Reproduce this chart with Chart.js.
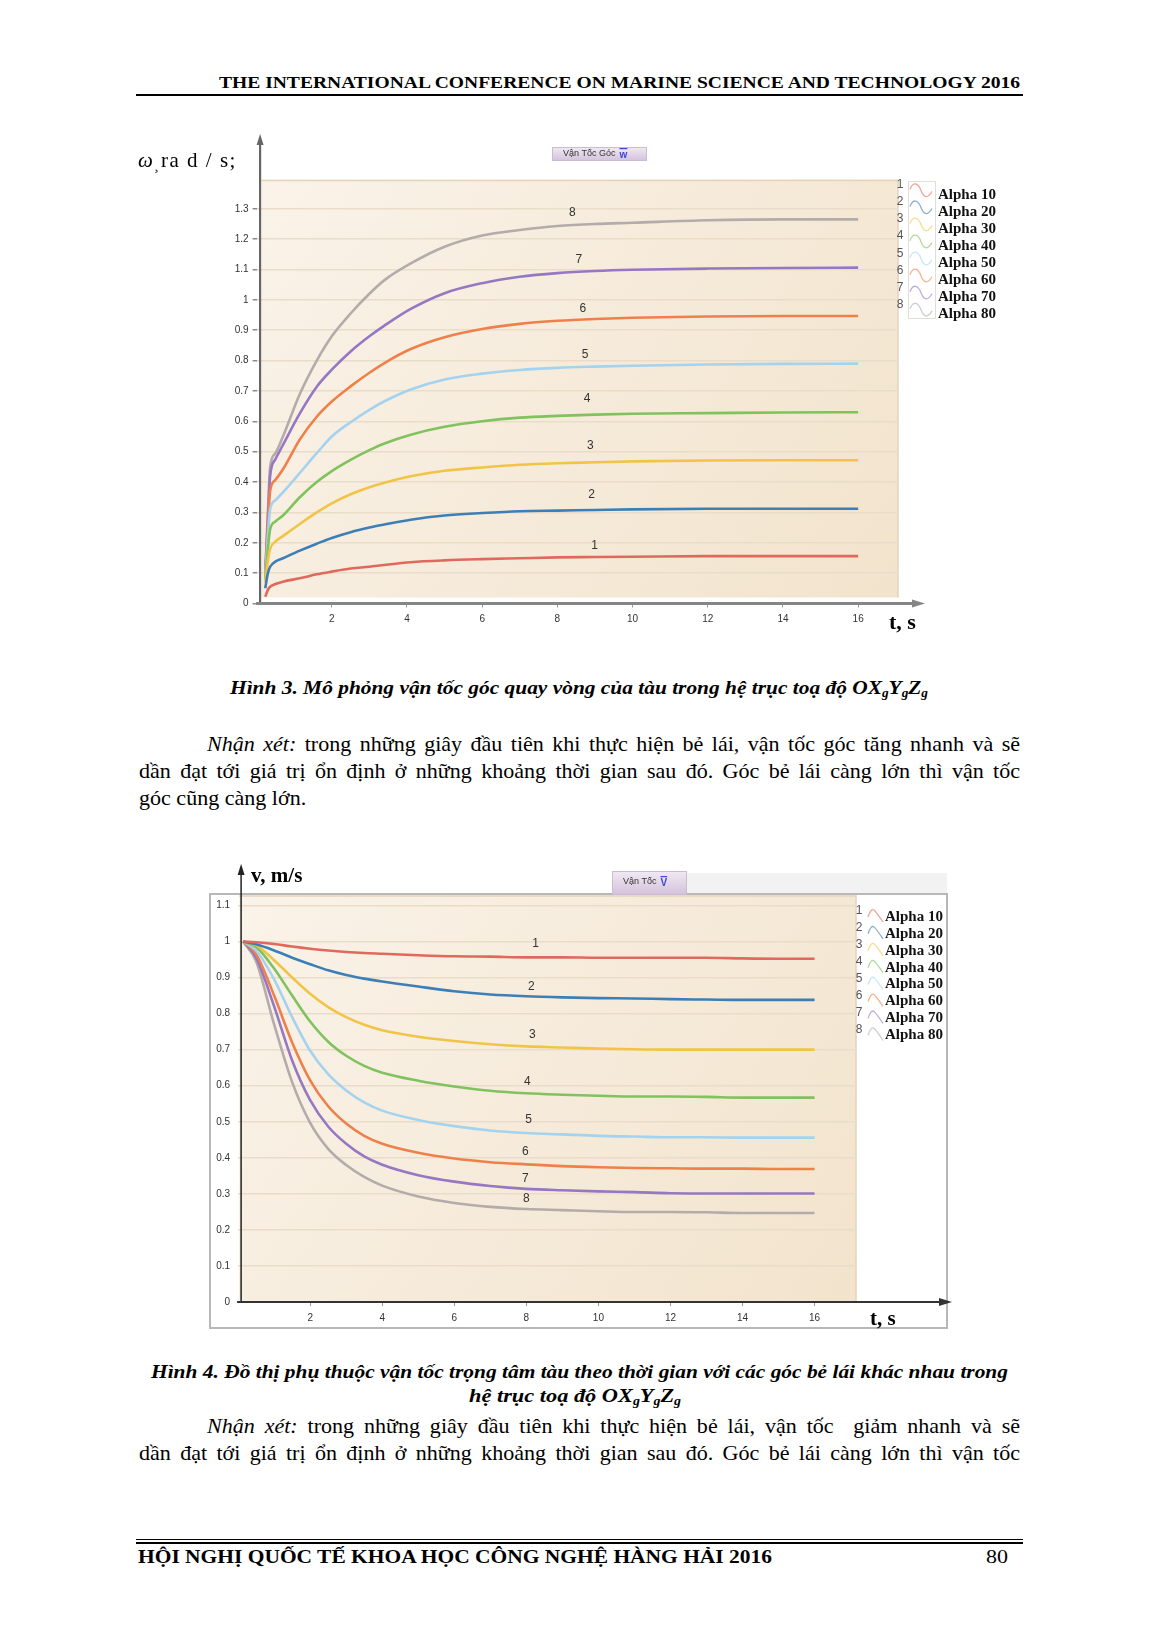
<!DOCTYPE html>
<html lang="vi">
<head>
<meta charset="UTF-8">
<title>Hình 3 – Hình 4</title>
<script src="https://cdn.jsdelivr.net/npm/chart.js@4"></script>
<style>
html, body { margin: 0; padding: 0; background: #fff; }
#page { position: relative; width: 1157px; height: 1637px; overflow: hidden;
        font-family: 'Liberation Serif', 'Times New Roman', serif; color: #000; }
.t { position: absolute; white-space: nowrap; line-height: 1; transform-origin: 0 0; }
.t sub { font-size: 0.62em; vertical-align: -0.28em; line-height: 0; }
.rule { position: absolute; background: #000; }
.box { position: absolute; }
.box canvas { display: block; }
</style>
</head>
<body>
<div id="page">
  <div class="t fit" style="left:219px;top:74px;font-size:17px;font-weight:bold" data-w="801">THE INTERNATIONAL CONFERENCE ON MARINE SCIENCE AND TECHNOLOGY 2016</div>
  <div class="rule" style="left:136px;top:94px;width:887px;height:1.5px"></div>

  <div class="box" style="left:120px;top:120px;width:900px;height:520px"><canvas id="omegaChart"></canvas></div>

  <div class="t fit" style="left:230px;top:679px;font-size:18.5px;font-weight:bold;font-style:italic" data-w="698">Hình 3. Mô phỏng vận tốc góc quay vòng của tàu trong hệ trục toạ độ OX<sub>g</sub>Y<sub>g</sub>Z<sub>g</sub></div>

  <div class="t just" style="left:207px;top:734px;font-size:21px" data-w="813"><i>Nhận xét:</i> trong những giây đầu tiên khi thực hiện bẻ lái, vận tốc góc tăng nhanh và sẽ</div>
  <div class="t just" style="left:139px;top:761px;font-size:21px" data-w="881">dần đạt tới giá trị ổn định ở những khoảng thời gian sau đó. Góc bẻ lái càng lớn thì vận tốc</div>
  <div class="t narrow" style="left:139px;top:788px;font-size:21px">góc cũng càng lớn.</div>

  <div class="box" style="left:200px;top:855px;width:760px;height:490px"><canvas id="velChart"></canvas></div>

  <div class="t fit" style="left:151px;top:1363px;font-size:18.5px;font-weight:bold;font-style:italic" data-w="857">Hình 4. Đồ thị phụ thuộc vận tốc trọng tâm tàu theo thời gian với các góc bẻ lái khác nhau trong</div>
  <div class="t fit" style="left:469px;top:1387px;font-size:18.5px;font-weight:bold;font-style:italic" data-w="212">hệ trục toạ độ OX<sub>g</sub>Y<sub>g</sub>Z<sub>g</sub></div>

  <div class="t just" style="left:207px;top:1416px;font-size:21px" data-w="813"><i>Nhận xét:</i> trong những giây đầu tiên khi thực hiện bẻ lái, vận tốc&nbsp; giảm nhanh và sẽ</div>
  <div class="t just" style="left:139px;top:1443px;font-size:21px" data-w="881">dần đạt tới giá trị ổn định ở những khoảng thời gian sau đó. Góc bẻ lái càng lớn thì vận tốc</div>

  <div class="rule" style="left:136px;top:1538.5px;width:887px;height:1px"></div>
  <div class="rule" style="left:136px;top:1541.5px;width:887px;height:2px"></div>
  <div class="t fit" style="left:138px;top:1547.5px;font-size:18px;font-weight:bold" data-w="634">HỘI NGHỊ QUỐC TẾ KHOA HỌC CÔNG NGHỆ HÀNG HẢI 2016</div>
  <div class="t fit" style="left:986px;top:1547.5px;font-size:18px" data-w="22">80</div>
</div>

<script>
// ---- data: Hinh 3, angular velocity omega (rad/s) vs t (s)
const omegaTime = [0.23, 0.3, 0.36, 0.5, 0.7, 1.15, 1.6, 2, 2.5, 3, 3.4, 4.1, 5, 6, 7, 8, 9, 10, 12, 14, 16];
const omegaA10 = [0.022, 0.045, 0.055, 0.064, 0.072, 0.083, 0.096, 0.105, 0.115, 0.121, 0.127, 0.136, 0.142, 0.146, 0.149, 0.152, 0.153, 0.154, 0.156, 0.156, 0.156];
const omegaA20 = [0.05, 0.1, 0.121, 0.138, 0.149, 0.174, 0.197, 0.216, 0.235, 0.25, 0.26, 0.276, 0.29, 0.298, 0.304, 0.306, 0.308, 0.31, 0.312, 0.312, 0.312];
const omegaA30 = [0.07, 0.14, 0.18, 0.204, 0.222, 0.262, 0.3, 0.33, 0.36, 0.383, 0.398, 0.419, 0.437, 0.448, 0.457, 0.462, 0.465, 0.468, 0.471, 0.472, 0.472];
const omegaA40 = [0.08, 0.18, 0.245, 0.27, 0.29, 0.35, 0.4, 0.436, 0.473, 0.505, 0.527, 0.556, 0.582, 0.6, 0.612, 0.618, 0.622, 0.625, 0.627, 0.629, 0.63];
const omegaA50 = [0.085, 0.22, 0.31, 0.34, 0.366, 0.43, 0.495, 0.55, 0.597, 0.638, 0.666, 0.705, 0.738, 0.757, 0.769, 0.776, 0.78, 0.783, 0.787, 0.789, 0.79];
const omegaA60 = [0.09, 0.25, 0.37, 0.407, 0.442, 0.54, 0.615, 0.665, 0.715, 0.76, 0.792, 0.838, 0.877, 0.904, 0.921, 0.931, 0.937, 0.941, 0.945, 0.947, 0.947];
const omegaA70 = [0.095, 0.28, 0.42, 0.475, 0.522, 0.626, 0.714, 0.77, 0.83, 0.88, 0.915, 0.97, 1.022, 1.055, 1.076, 1.088, 1.095, 1.099, 1.103, 1.105, 1.106];
const omegaA80 = [0.1, 0.3, 0.45, 0.495, 0.55, 0.69, 0.8, 0.88, 0.955, 1.02, 1.065, 1.12, 1.175, 1.212, 1.23, 1.243, 1.25, 1.254, 1.262, 1.265, 1.265];
const omegaYTicks = [0, 0.1, 0.2, 0.3, 0.4, 0.5, 0.6, 0.7, 0.8, 0.9, 1, 1.1, 1.2, 1.3];
// curve number labels (t, omega)
const omegaLabelT = [8.99, 8.91, 8.88, 8.79, 8.74, 8.68, 8.57, 8.4];
const omegaLabelY = [0.192, 0.357, 0.519, 0.674, 0.819, 0.97, 1.131, 1.286];

// ---- data: Hinh 4, velocity v (m/s) vs t (s)
const velTime = [0.14, 0.5, 1, 1.5, 2, 2.5, 3, 3.5, 4, 5, 6, 7, 8, 9, 10, 11, 12, 13, 14, 15, 16];
const velA10 = [1, 0.998, 0.993, 0.986, 0.98, 0.975, 0.971, 0.968, 0.966, 0.962, 0.959, 0.958, 0.956, 0.956, 0.955, 0.955, 0.955, 0.955, 0.953, 0.952, 0.952];
const velA20 = [1, 0.992, 0.975, 0.955, 0.937, 0.92, 0.907, 0.897, 0.889, 0.875, 0.862, 0.853, 0.848, 0.845, 0.843, 0.842, 0.84, 0.839, 0.838, 0.838, 0.838];
const velA30 = [1, 0.99, 0.948, 0.9, 0.855, 0.818, 0.79, 0.769, 0.754, 0.736, 0.724, 0.715, 0.709, 0.706, 0.703, 0.701, 0.7, 0.7, 0.7, 0.7, 0.7];
const velA40 = [1, 0.985, 0.925, 0.85, 0.778, 0.722, 0.683, 0.655, 0.636, 0.614, 0.598, 0.586, 0.579, 0.575, 0.572, 0.57, 0.57, 0.569, 0.567, 0.567, 0.567];
const velA50 = [1, 0.975, 0.895, 0.79, 0.697, 0.632, 0.587, 0.554, 0.531, 0.505, 0.488, 0.476, 0.469, 0.465, 0.461, 0.459, 0.457, 0.457, 0.456, 0.456, 0.456];
const velA60 = [1, 0.965, 0.85, 0.72, 0.615, 0.543, 0.495, 0.461, 0.439, 0.414, 0.398, 0.388, 0.382, 0.377, 0.374, 0.372, 0.371, 0.37, 0.37, 0.369, 0.369];
const velA70 = [1, 0.955, 0.82, 0.67, 0.56, 0.487, 0.439, 0.404, 0.381, 0.352, 0.334, 0.322, 0.314, 0.31, 0.307, 0.305, 0.302, 0.301, 0.301, 0.301, 0.301];
const velA80 = [1, 0.945, 0.77, 0.61, 0.497, 0.425, 0.38, 0.347, 0.323, 0.293, 0.275, 0.264, 0.258, 0.255, 0.252, 0.25, 0.25, 0.249, 0.247, 0.247, 0.247];
const velYTicks = [0, 0.1, 0.2, 0.3, 0.4, 0.5, 0.6, 0.7, 0.8, 0.9, 1, 1.1];
const velLabelT = [8.26, 8.14, 8.17, 8.03, 8.06, 7.97, 7.97, 8.0];
const velLabelY = [0.993, 0.874, 0.741, 0.611, 0.507, 0.417, 0.342, 0.287];

// ---- shared
const timeTicks = [2, 4, 6, 8, 10, 12, 14, 16];
const seriesNames = ['Alpha 10', 'Alpha 20', 'Alpha 30', 'Alpha 40', 'Alpha 50', 'Alpha 60', 'Alpha 70', 'Alpha 80'];
const curveIds = ['1', '2', '3', '4', '5', '6', '7', '8'];
const lineColors = ['#e0695d', '#3c7fb6', '#f1c447', '#80c25d', '#a3d3ef', '#ef8049', '#9677c3', '#b3acaa'];

const omegaSeries = [omegaA10, omegaA20, omegaA30, omegaA40, omegaA50, omegaA60, omegaA70, omegaA80];
const velSeries = [velA10, velA20, velA30, velA40, velA50, velA60, velA70, velA80];

function drawWave(ctx, x, cy, color, full) {
    ctx.save();
    ctx.globalAlpha = 0.6;
    ctx.strokeStyle = color;
    ctx.lineWidth = 1.3;
    ctx.beginPath();
    if (full) {
        ctx.moveTo(x, cy - 1);
        ctx.bezierCurveTo(x + 3, cy - 9, x + 8, cy - 8, x + 11, cy);
        ctx.bezierCurveTo(x + 14, cy + 8, x + 18, cy + 8, x + 22, cy + 1);
    } else {
        ctx.moveTo(x, cy + 2);
        ctx.quadraticCurveTo(x + 3, cy - 7, x + 6, cy - 5);
        ctx.quadraticCurveTo(x + 9, cy - 2, x + 15, cy + 7);
    }
    ctx.stroke();
    ctx.restore();
}

function drawTab(ctx, t) {
    const g = ctx.createLinearGradient(0, t.y0, 0, t.y1);
    g.addColorStop(0, '#f1eaf3');
    g.addColorStop(1, '#d3c1dc');
    ctx.fillStyle = g;
    ctx.fillRect(t.x0, t.y0, t.x1 - t.x0, t.y1 - t.y0);
    ctx.strokeStyle = '#cbbcd2';
    ctx.lineWidth = 1;
    ctx.strokeRect(t.x0 + 0.5, t.y0 + 0.5, t.x1 - t.x0 - 1, t.y1 - t.y0 - 1);
    ctx.font = '9px "Liberation Sans", Arial, sans-serif';
    ctx.fillStyle = '#333';
    ctx.textAlign = 'left';
    ctx.textBaseline = 'middle';
    ctx.fillText(t.text, t.tx, t.cy);
    const sx = t.tx + ctx.measureText(t.text).width + 4;
    ctx.font = 'bold 10px "Liberation Sans", Arial, sans-serif';
    ctx.fillStyle = '#3b46d6';
    ctx.fillText(t.sym, sx, t.cy + 1);
    const w = ctx.measureText(t.sym).width;
    ctx.fillRect(sx, t.cy - 6, w, 1.2);
}

function makeDecor(spec) {
    return {
        id: 'decor',
        beforeDraw(chart) {
            const ctx = chart.ctx, a = chart.chartArea, ys = chart.scales.y;
            ctx.save();
            if (spec.band) {
                const b = spec.band;
                ctx.fillStyle = '#f2f2f2';
                ctx.fillRect(b.x0, b.y0, b.x1 - b.x0, b.y1 - b.y0);
            }
            const x0 = a.left + spec.bgInset, x1 = a.right;
            const y0 = spec.bgTop, y1 = ys.getPixelForValue(0) - spec.bgGap;
            const g = ctx.createLinearGradient(x0, y0, x1, y1);
            g.addColorStop(0, '#faf3e9');
            g.addColorStop(1, '#f2e3cc');
            ctx.fillStyle = g;
            ctx.fillRect(x0, y0, x1 - x0, y1 - y0);
            ctx.strokeStyle = '#e4d4bc';
            ctx.lineWidth = 1.5;
            ctx.beginPath();
            ctx.moveTo(x1, y0); ctx.lineTo(x1, y1);
            ctx.moveTo(x0, y0 + 1); ctx.lineTo(x1, y0 + 1);
            ctx.stroke();
            if (spec.frame) {
                const f = spec.frame;
                ctx.strokeStyle = '#b8b8b8';
                ctx.lineWidth = 2;
                ctx.strokeRect(f.x0, f.y0, f.x1 - f.x0, f.y1 - f.y0);
            }
            ctx.restore();
        },
        afterDraw(chart) {
            const ctx = chart.ctx, xs = chart.scales.x, ys = chart.scales.y;
            ctx.save();
            const ax = xs.getPixelForValue(0) + spec.axisShift;
            const ay = ys.getPixelForValue(0);
            // y axis with arrow
            ctx.strokeStyle = spec.yAxisColor;
            ctx.fillStyle = spec.yAxisColor;
            ctx.lineWidth = spec.yAxisWidth;
            ctx.beginPath();
            ctx.moveTo(ax, ay + 1); ctx.lineTo(ax, spec.yArrowTip + 8);
            ctx.stroke();
            ctx.beginPath();
            ctx.moveTo(ax, spec.yArrowTip); ctx.lineTo(ax - 3.5, spec.yArrowTip + 11); ctx.lineTo(ax + 3.5, spec.yArrowTip + 11);
            ctx.closePath(); ctx.fill();
            // x axis with arrow
            ctx.strokeStyle = spec.xAxisColor;
            ctx.fillStyle = spec.xAxisColor;
            ctx.lineWidth = spec.xAxisWidth;
            ctx.beginPath();
            ctx.moveTo(ax - 4, ay); ctx.lineTo(spec.xArrowTip - 10, ay);
            ctx.stroke();
            ctx.beginPath();
            ctx.moveTo(spec.xArrowTip, ay); ctx.lineTo(spec.xArrowTip - 13, ay - 4); ctx.lineTo(spec.xArrowTip - 13, ay + 4);
            ctx.closePath(); ctx.fill();

            // axis titles
            ctx.fillStyle = '#000';
            ctx.textBaseline = 'alphabetic';
            ctx.textAlign = 'left';
            spec.titles.forEach(tt => {
                ctx.font = tt.font;
                if ('letterSpacing' in ctx) ctx.letterSpacing = tt.spacing || '0px';
                ctx.fillText(tt.text, tt.x, tt.y);
            });
            if ('letterSpacing' in ctx) ctx.letterSpacing = '0px';

            // curve numbers
            ctx.font = '12px "Liberation Sans", Arial, sans-serif';
            ctx.fillStyle = '#333';
            ctx.textAlign = 'center';
            ctx.textBaseline = 'middle';
            spec.labelT.forEach((t, i) => {
                ctx.fillText(curveIds[i], xs.getPixelForValue(t), ys.getPixelForValue(spec.labelY[i]));
            });

            // legend
            const L = spec.legend;
            if (L.box) {
                ctx.strokeStyle = '#e2ddd5';
                ctx.lineWidth = 1;
                ctx.strokeRect(L.box[0] + 0.5, L.box[1] + 0.5, L.box[2], L.box[3]);
            }
            seriesNames.forEach((name, i) => {
                const cy = L.y0 + i * L.step;
                ctx.font = '12px "Liberation Sans", Arial, sans-serif';
                ctx.fillStyle = '#555';
                ctx.textAlign = 'center';
                ctx.textBaseline = 'middle';
                ctx.fillText(curveIds[i], L.numX, cy + L.numDy);
                drawWave(ctx, L.iconX, cy + L.iconDy, lineColors[i], L.fullWave);
                ctx.font = 'bold 15px "Liberation Serif", "Times New Roman", serif';
                ctx.fillStyle = '#111';
                ctx.textAlign = 'left';
                ctx.fillText(name, L.textX, cy + 1);
            });

            drawTab(ctx, spec.tab);
            ctx.restore();
        }
    };
}

function buildChart(id, times, series, yTicks, yMax, xMax, pad, xPadLabel, yTickOpts, decor) {
    const datasets = series.map((vals, i) => ({
        label: seriesNames[i],
        data: times.map((t, k) => ({ x: t, y: vals[k] })),
        borderColor: lineColors[i],
        borderWidth: 2.6,
        pointRadius: 0,
        fill: false,
        cubicInterpolationMode: 'monotone'
    }));
    return new Chart(document.getElementById(id), {
        type: 'line',
        data: { datasets: datasets },
        options: {
            responsive: true,
            maintainAspectRatio: false,
            animation: false,
            events: [],
            layout: { padding: pad },
            plugins: { legend: { display: false }, tooltip: { enabled: false }, title: { display: false } },
            scales: {
                x: {
                    type: 'linear', min: 0, max: xMax,
                    afterBuildTicks: s => { s.ticks = timeTicks.map(v => ({ value: v })); },
                    afterFit: s => { s.height = 30; },
                    border: { display: false },
                    grid: { drawOnChartArea: false, drawTicks: true, tickLength: 4, tickColor: '#9a9a9a' },
                    ticks: { color: '#333', padding: xPadLabel, maxRotation: 0, font: { family: 'Liberation Sans', size: 10 } }
                },
                y: {
                    type: 'linear', min: 0, max: yMax,
                    afterBuildTicks: s => { s.ticks = yTicks.map(v => ({ value: v })); },
                    afterFit: s => { s.width = 30; },
                    border: { display: false },
                    grid: {
                        color: c => (c.tick && c.tick.value === 0) ? 'rgba(0,0,0,0)' : '#e9ddca',
                        lineWidth: 1.5,
                        drawTicks: yTickOpts.drawTicks,
                        tickLength: 4,
                        tickColor: '#8a8a8a'
                    },
                    ticks: {
                        color: '#333', padding: yTickOpts.padding,
                        font: { family: 'Liberation Sans', size: 10 },
                        callback: v => String(+v.toFixed(2))
                    }
                }
            }
        },
        plugins: [decor]
    });
}

// Hinh 3 chart (canvas at page 120,120; 900x520)
buildChart('omegaChart', omegaTime, omegaSeries, omegaYTicks, 1.396, 17.06,
    { left: 106.6, right: 122, top: 59.6, bottom: 6.5 }, 6, { drawTicks: true, padding: 4 },
    makeDecor({
        bgInset: 5, bgTop: 59.6, bgGap: 6, axisShift: 3.5,
        yAxisColor: '#666', yAxisWidth: 2.2, yArrowTip: 14,
        xAxisColor: '#858585', xAxisWidth: 3, xArrowTip: 805,
        titles: [
            { text: 'ω', x: 18, y: 47, font: 'italic 21px "Liberation Serif", serif' },
            { text: '¸', x: 34, y: 50, font: '14px "Liberation Serif", serif' },
            { text: 'ra d / s;', x: 41, y: 47, font: '21px "Liberation Serif", serif', spacing: '1.5px' },
            { text: 't, s', x: 769, y: 509, font: 'bold 22px "Liberation Serif", serif' }
        ],
        labelT: omegaLabelT, labelY: omegaLabelY,
        legend: { numX: 780, numDy: -9, iconX: 790, iconDy: -3.5, textX: 818, y0: 74, step: 17.05,
                  fullWave: true, box: [788, 61, 27, 137] },
        tab: { x0: 432, y0: 27, x1: 527, y1: 41, text: 'Vận Tốc Góc', tx: 443, sym: 'w', cy: 34 }
    }));

// Hinh 4 chart (canvas at page 200,855; 760x490)
buildChart('velChart', velTime, velSeries, velYTicks, 1.115, 17.15,
    { left: 8.1, right: 104, top: 45, bottom: 12.9 }, 6, { drawTicks: false, padding: 8 },
    makeDecor({
        bgInset: 1, bgTop: 40, bgGap: 1, axisShift: 3,
        yAxisColor: '#222', yAxisWidth: 1.5, yArrowTip: 9,
        xAxisColor: '#333', xAxisWidth: 2, xArrowTip: 752,
        band: { x0: 487, y0: 18, x1: 747, y1: 38 },
        frame: { x0: 10, y0: 39, x1: 747, y1: 473 },
        titles: [
            { text: 'v, m/s', x: 51, y: 27, font: 'bold 21px "Liberation Serif", serif' },
            { text: 't, s', x: 670, y: 470, font: 'bold 21px "Liberation Serif", serif' }
        ],
        labelT: velLabelT, labelY: velLabelY,
        legend: { numX: 659, numDy: -5, iconX: 668, iconDy: -1, textX: 685, y0: 61, step: 16.9,
                  fullWave: false, box: null },
        tab: { x0: 412, y0: 16, x1: 487, y1: 40, text: 'Vận Tốc', tx: 423, sym: 'V', cy: 27 }
    }));

// fit single-line texts to the widths in the page
document.querySelectorAll('.fit').forEach(el => {
    const w = el.getBoundingClientRect().width;
    el.style.transform = 'scaleX(' + (Number(el.dataset.w) / w) + ')';
});
// body text: the printed face runs a little wider than Liberation Serif
const bodyScale = 1.05;
document.querySelectorAll('.narrow').forEach(el => {
    el.style.transform = 'scaleX(' + bodyScale + ')';
});
// justify paragraph lines through word spacing
document.querySelectorAll('.just').forEach(el => {
    const w = el.getBoundingClientRect().width;
    const gaps = el.textContent.split(/[ \u00a0]/).length - 1;
    el.style.wordSpacing = ((Number(el.dataset.w) / bodyScale - w) / gaps) + 'px';
    el.style.transform = 'scaleX(' + bodyScale + ')';
});
</script>
</body>
</html>
